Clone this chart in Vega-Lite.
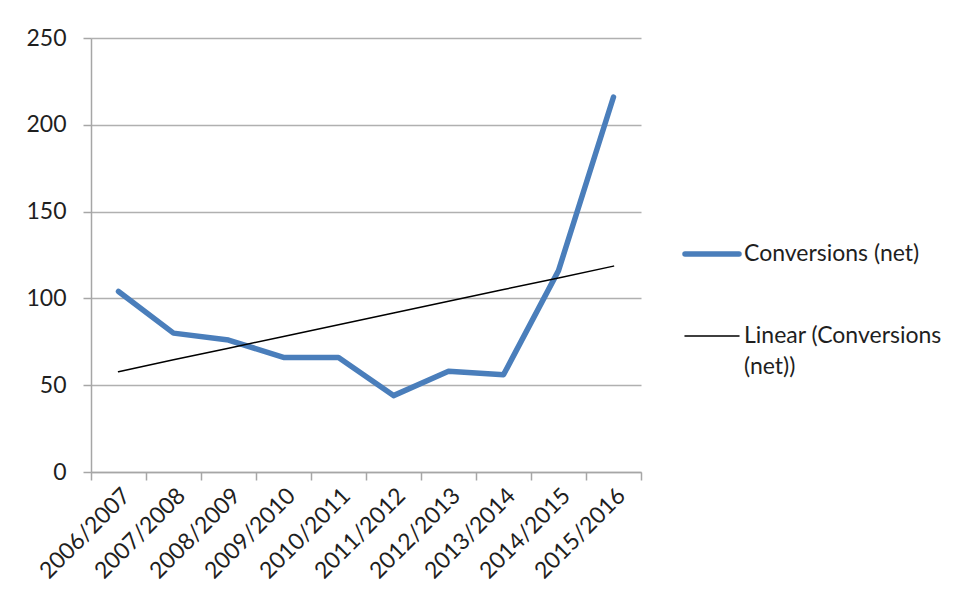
{
  "$schema": "https://vega.github.io/schema/vega-lite/v6.json",
  "autosize": {"type": "none"},
  "width": 550,
  "height": 434,
  "padding": {"left": 91, "top": 38, "right": 327, "bottom": 136},
  "background": "#ffffff",
  "config": {
    "view": {"stroke": null},
    "font": "Lato",
    "axis": {
      "labelFont": "Lato",
      "labelFontSize": 23,
      "labelColor": "#1f1f1f",
      "domainColor": "#a6a6a6",
      "domainWidth": 1.5,
      "tickColor": "#a6a6a6",
      "tickWidth": 1.5,
      "tickSize": 8,
      "gridColor": "#b0b0b0",
      "gridWidth": 1.5,
      "title": null
    },
    "legend": {
      "labelFont": "Lato",
      "labelFontSize": 23,
      "labelColor": "#1f1f1f",
      "labelLimit": 400
    }
  },
  "data": {
    "values": [
      {"year": "2006/2007", "series": "Conversions (net)", "value": 104},
      {"year": "2007/2008", "series": "Conversions (net)", "value": 80},
      {"year": "2008/2009", "series": "Conversions (net)", "value": 76},
      {"year": "2009/2010", "series": "Conversions (net)", "value": 66},
      {"year": "2010/2011", "series": "Conversions (net)", "value": 66},
      {"year": "2011/2012", "series": "Conversions (net)", "value": 44},
      {"year": "2012/2013", "series": "Conversions (net)", "value": 58},
      {"year": "2013/2014", "series": "Conversions (net)", "value": 56},
      {"year": "2014/2015", "series": "Conversions (net)", "value": 116},
      {"year": "2015/2016", "series": "Conversions (net)", "value": 216},
      {"year": "2006/2007", "series": "Linear (Conversions (net))", "value": 57.8},
      {"year": "2007/2008", "series": "Linear (Conversions (net))", "value": 64.6},
      {"year": "2008/2009", "series": "Linear (Conversions (net))", "value": 71.3},
      {"year": "2009/2010", "series": "Linear (Conversions (net))", "value": 78.1},
      {"year": "2010/2011", "series": "Linear (Conversions (net))", "value": 84.8},
      {"year": "2011/2012", "series": "Linear (Conversions (net))", "value": 91.6},
      {"year": "2012/2013", "series": "Linear (Conversions (net))", "value": 98.3},
      {"year": "2013/2014", "series": "Linear (Conversions (net))", "value": 105.1},
      {"year": "2014/2015", "series": "Linear (Conversions (net))", "value": 111.8},
      {"year": "2015/2016", "series": "Linear (Conversions (net))", "value": 118.6}
    ]
  },
  "mark": {"type": "line", "strokeCap": "round", "strokeJoin": "round"},
  "encoding": {
    "x": {
      "field": "year",
      "type": "ordinal",
      "bandPosition": 0.5,
      "scale": {"type": "band", "paddingInner": 0, "paddingOuter": 0},
      "axis": {
        "labelAngle": -45,
        "tickBand": "extent",
        "labelPadding": 4,
        "grid": false
      }
    },
    "y": {
      "field": "value",
      "type": "quantitative",
      "scale": {"domain": [0, 250], "nice": false},
      "axis": {
        "values": [0, 50, 100, 150, 200, 250],
        "labelPadding": 17,
        "grid": true
      }
    },
    "color": {
      "field": "series",
      "type": "nominal",
      "scale": {
        "domain": ["Conversions (net)", "Linear (Conversions (net))"],
        "range": ["#4a7ebb", "#000000"]
      },
      "legend": {
        "title": null,
        "orient": "none",
        "legendX": 591,
        "legendY": 186,
        "symbolType": "stroke",
        "symbolSize": 2916,
        "labelOffset": 2,
        "rowPadding": 42,
        "labelExpr": "datum.label == 'Linear (Conversions (net))' ? ['Linear (Conversions', '(net))'] : datum.label",
        "encode": {
          "symbols": {"update": {"strokeCap": {"value": "round"}}},
          "labels": {"update": {"lineHeight": {"value": 31}}}
        }
      }
    },
    "strokeWidth": {
      "field": "series",
      "type": "nominal",
      "scale": {
        "domain": ["Conversions (net)", "Linear (Conversions (net))"],
        "range": [5.5, 1.5]
      },
      "legend": null
    }
  }
}
